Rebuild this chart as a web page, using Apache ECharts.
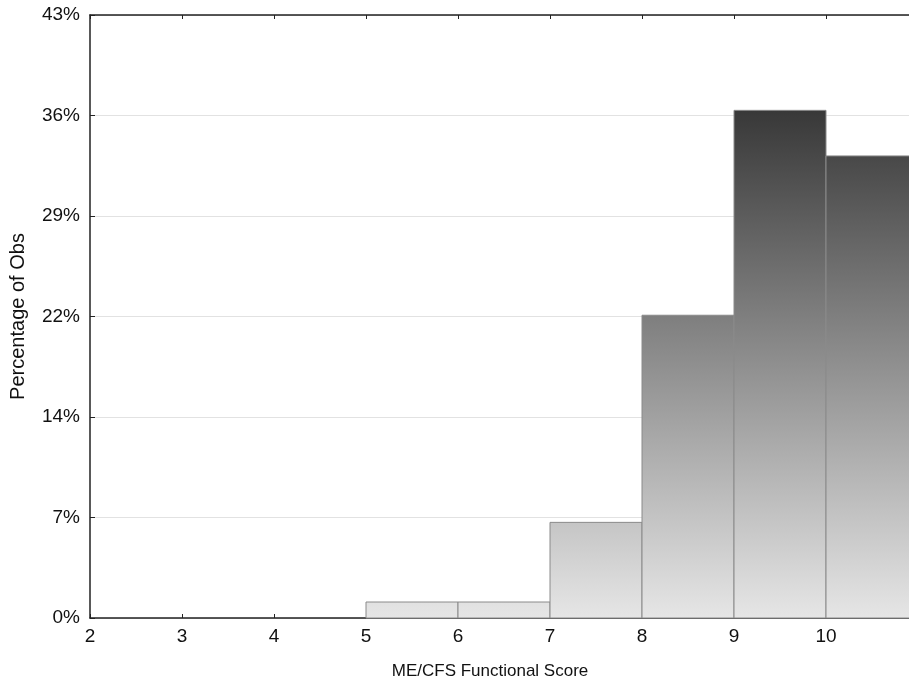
<!DOCTYPE html>
<html>
<head>
<meta charset="utf-8">
<script src="https://cdn.jsdelivr.net/npm/echarts@6/dist/echarts.min.js"></script>
<style>html,body{margin:0;padding:0;background:#fff}#c{width:909px;height:685px}</style>
</head>
<body>
<div id="c"></div>
<script>
// Histogram bins (lower edge, upper edge) and percentage of observations
const binStarts = [5, 6, 7, 8, 9, 10];
const binEnds = [6, 7, 8, 9, 10, 11];
const percents = [1.14, 1.14, 6.82, 21.59, 36.2, 32.95];
const yTickLabels = ['0%', '7%', '14%', '22%', '29%', '36%', '43%'];
const xTickLabels = ['2', '3', '4', '5', '6', '7', '8', '9', '10', ''];

const Y_MAX = 43;
const Y_STEP = Y_MAX / 6;

function grey(v) {
  const g = Math.max(0, Math.min(255, Math.round(230 - 4.8 * v)));
  return 'rgb(' + g + ',' + g + ',' + g + ')';
}

const data = binStarts.map((s, i) => [s, binEnds[i], percents[i]]);
const FONT = 'Liberation Sans, Arial, sans-serif';

const chart = echarts.init(document.getElementById('c'));
chart.setOption({
  animation: false,
  backgroundColor: '#fff',
  grid: { left: 90, right: -9, top: 15, bottom: 67, containLabel: false, outerBoundsMode: 'none' },
  xAxis: [{
    type: 'value', min: 2, max: 11, interval: 1,
    name: 'ME/CFS Functional Score', nameLocation: 'middle', nameGap: 45,
    nameTextStyle: { fontFamily: FONT, fontSize: 17, color: '#111', padding: [0, 28, 0, 0] },
    axisLine: { show: true, lineStyle: { color: '#222', width: 1.5 } },
    axisTick: { show: true, inside: true, length: 4, lineStyle: { color: '#222' } },
    axisLabel: { fontFamily: FONT, fontSize: 19, color: '#111', margin: 9,
      formatter: v => xTickLabels[Math.round(v) - 2] },
    splitLine: { show: false }
  }, {
    type: 'value', min: 2, max: 11, interval: 1, position: 'top',
    axisLine: { show: true, lineStyle: { color: '#222', width: 1.5 } },
    axisTick: { show: true, inside: true, length: 4, lineStyle: { color: '#222' } },
    axisLabel: { show: false }, splitLine: { show: false }
  }],
  yAxis: {
    type: 'value', min: 0, max: Y_MAX, interval: Y_STEP,
    name: 'Percentage of Obs', nameLocation: 'middle', nameGap: 62, nameRotate: 90,
    nameTextStyle: { fontFamily: FONT, fontSize: 20, color: '#111' },
    axisLine: { show: true, lineStyle: { color: '#222', width: 1.5 } },
    axisTick: { show: true, inside: true, length: 5, lineStyle: { color: '#222' } },
    axisLabel: { fontFamily: FONT, fontSize: 19, color: '#111', margin: 10,
      formatter: v => yTickLabels[Math.round(v / Y_STEP)] },
    splitLine: { show: true, lineStyle: { color: '#e2e2e2', width: 1 } }
  },
  series: [{
    type: 'custom',
    xAxisIndex: 0,
    data: data,
    renderItem: function (params, api) {
      const s = api.value(0), e = api.value(1), v = api.value(2);
      const p0 = api.coord([s, v]);
      const p1 = api.coord([e, 0]);
      return {
        type: 'rect',
        shape: { x: p0[0], y: p0[1], width: p1[0] - p0[0], height: p1[1] - p0[1] },
        style: {
          fill: new echarts.graphic.LinearGradient(0, 0, 0, 1, [
            { offset: 0, color: grey(v) },
            { offset: 1, color: grey(0) }
          ]),
          stroke: '#8a8a8a', lineWidth: 1
        }
      };
    }
  }]
});
</script>
</body>
</html>
